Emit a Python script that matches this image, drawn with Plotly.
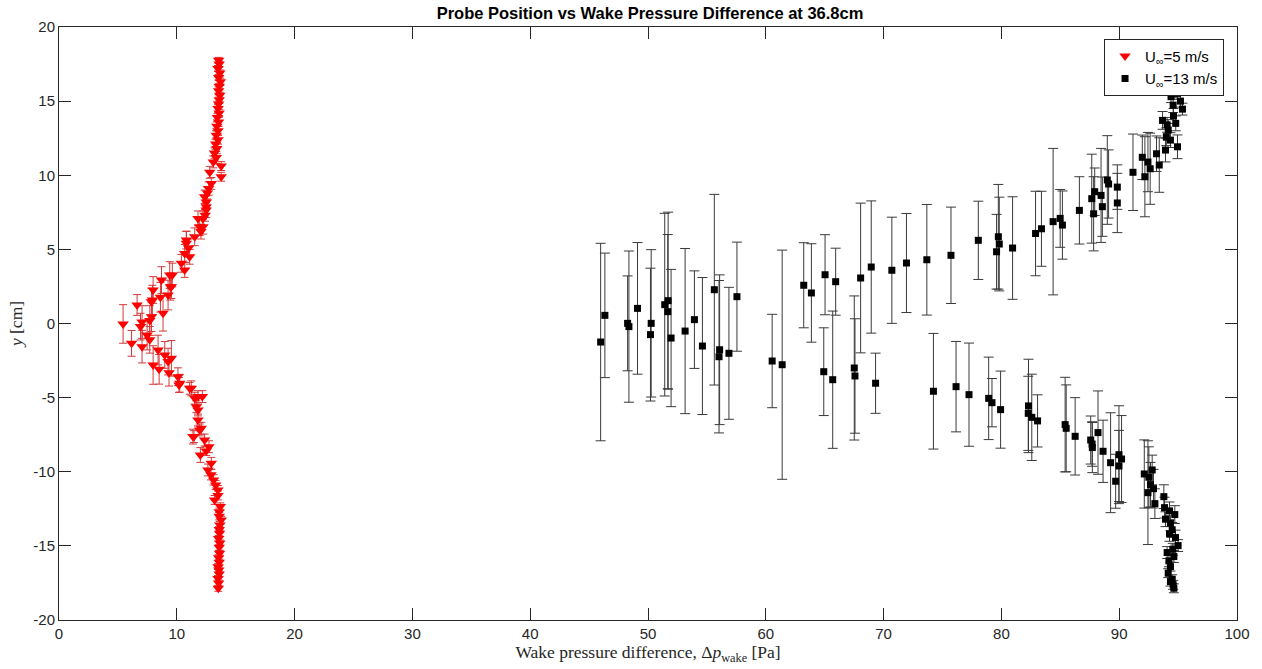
import plotly.graph_objects as go

# ---------------- data: U_inf = 5 m/s (red) ----------------
red_x = [13.55, 13.6, 13.5, 13.65, 13.55, 13.7, 13.6, 13.55, 13.65, 13.6,
         13.55, 13.5, 13.6, 13.45, 13.55, 13.4, 13.5, 13.35, 13.5, 13.3,
         13.4, 13.2, 13.35, 13.1, 13.77, 12.8, 13.77, 12.93, 12.7, 12.6,
         12.36, 12.5, 12.5, 12.5, 12.4, 12.22, 11.8, 12.22, 11.94, 12.05,
         11.52, 10.81, 10.81, 11.0, 10.67, 11.09, 10.39, 10.67, 9.62, 9.4,
         8.7, 9.54, 9.45, 7.99, 9.26, 8.61, 7.93, 7.85, 6.63, 8.83,
         7.85, 7.71, 7.05, 5.44, 6.92, 7.48, 7.7, 6.16, 7.05, 8.41,
         8.98, 9.54, 9.26, 7.99, 8.5, 9.34, 10.1, 10.19, 10.25, 11.23,
         11.09, 11.52, 12.17, 11.8, 11.66, 11.8, 11.8, 12.08, 11.94, 11.37,
         11.46, 12.36, 12.5, 12.73, 12.0, 12.93, 12.64, 12.9, 13.12, 13.3,
         13.49, 13.5, 13.21, 13.69, 13.6, 13.6, 13.77, 13.65, 13.6, 13.63,
         13.55, 13.65, 13.6, 13.63, 13.55, 13.6, 13.5, 13.57, 13.6, 13.5,
         13.55, 13.52]
red_y = [17.75, 17.5, 17.2, 16.9, 16.6, 16.3, 16.0, 15.7, 15.4, 15.1,
         14.8, 14.5, 14.2, 13.9, 13.6, 13.3, 13.0, 12.7, 12.4, 12.1,
         11.8, 11.5, 11.2, 10.9, 10.62, 10.2, 9.9, 9.45, 9.1, 8.8,
         8.55, 8.2, 7.88, 7.65, 7.3, 7.09, 7.09, 6.53, 6.53, 6.2,
         5.85, 5.41, 5.63, 5.1, 4.73, 4.5, 4.06, 3.61, 3.27, 3.27,
         2.93, 2.48, 2.48, 2.26, 1.92, 1.77, 1.58, 1.47, 1.25, 0.69,
         0.46, 0.2, 0.1, -0.03, -0.21, -0.78, -1.1, -1.34, -1.56, -1.79,
         -2.12, -2.35, -2.57, -2.8, -3.09, -3.32, -3.59, -4.15, -4.03, -4.37,
         -4.37, -5.04, -4.93, -4.93, -5.61, -5.83, -6.51, -7.07, -7.18, -7.63,
         -7.63, -7.86, -8.6, -8.31, -8.87, -9.43, -9.88, -10.2, -10.55, -10.9,
         -11.23, -11.6, -11.9, -12.35, -12.7, -13.0, -13.25, -13.6, -13.9, -14.15,
         -14.5, -14.8, -15.1, -15.5, -15.8, -16.1, -16.4, -16.62, -16.9, -17.2,
         -17.5, -17.86]
red_err = [0.2, 0.2, 0.2, 0.2, 0.2, 0.25, 0.2, 0.25, 0.2, 0.25,
           0.2, 0.25, 0.25, 0.25, 0.3, 0.3, 0.3, 0.3, 0.3, 0.35,
           0.35, 0.35, 0.4, 0.4, 0.3, 0.4, 0.3, 0.4, 0.45, 0.4,
           0.45, 0.4, 0.45, 0.5, 0.4, 0.5, 0.5, 0.5, 0.6, 0.5,
           0.6, 0.8, 0.6, 0.6, 0.6, 0.5, 0.6, 0.5, 0.8, 0.9,
           0.9, 0.8, 0.9, 0.9, 1.0, 1.0, 1.0, 0.9, 0.7, 1.2,
           1.0, 1.0, 1.1, 1.3, 0.9, 1.0, 0.9, 0.87, 1.1, 1.0,
           0.9, 1.2, 0.9, 1.3, 1.0, 0.9, 0.6, 0.5, 0.6, 0.5,
           0.4, 0.4, 0.4, 0.4, 0.4, 0.4, 0.4, 0.4, 0.4, 0.5,
           0.4, 0.4, 0.3, 0.4, 0.5, 0.4, 0.4, 0.35, 0.35, 0.3,
           0.3, 0.3, 0.3, 0.25, 0.25, 0.25, 0.25, 0.25, 0.2, 0.2,
           0.2, 0.2, 0.2, 0.2, 0.2, 0.2, 0.2, 0.2, 0.2, 0.2,
           0.2, 0.2]

# ---------------- data: U_inf = 13 m/s (black) ----------------
blk_x = [45.98, 46.34, 48.27, 48.38, 49.11, 50.27, 50.21, 51.42, 51.71, 51.68,
         51.96, 53.15, 53.94, 54.62, 55.63, 56.08, 56.03, 56.87, 57.55, 60.54,
         61.39, 63.22, 63.87, 65.03, 65.93, 64.92, 65.68, 67.51, 67.57, 68.05,
         68.95, 69.32, 70.70, 71.94, 73.67, 74.23, 75.72, 76.15, 77.25, 78.04,
         78.92, 79.20, 79.59, 79.74, 79.82, 79.93, 80.95, 82.3, 82.28, 82.58,
         83.07, 82.9, 83.40, 84.39, 84.99, 85.18, 85.41, 85.50, 86.26, 86.62,
         87.58, 87.70, 87.72, 88.2, 88.63, 87.67, 87.83, 87.92, 88.46, 88.57,
         88.99, 89.10, 89.84, 89.84, 89.27, 89.70, 89.98, 89.98, 90.20, 91.17,
         91.96, 92.18, 92.44, 92.63, 93.17, 93.40, 92.13, 92.44, 92.52, 92.66,
         92.80, 92.91, 93.03,
         93.93, 94.95, 93.68, 94.16, 94.0, 94.35, 94.07, 94.8, 94.61, 94.58,
         95.37, 95.2, 94.4, 94.92, 94.45, 94.7, 94.5, 94.8, 94.6,
         93.79, 93.85, 94.27, 94.72, 93.93, 94.35, 94.5, 94.27, 94.78, 95.0,
         94.55, 94.07, 94.64, 94.22, 94.35, 94.16, 94.5, 94.35, 94.58, 94.64]
blk_y = [-1.25, 0.55, 0.01, -0.21, 1.02, 0.01, -0.75, 1.27, 1.54, 0.80,
         -0.98, -0.51, 0.26, -1.52, 2.28, -1.77, -2.24, -2.01, 1.81, -2.53,
         -2.78, 2.58, 2.06, 3.29, 2.82, -3.25, -3.79, -3.0, -3.54, 3.07,
         3.81, -4.03, 3.59, 4.08, 4.30, -4.57, 4.60, -4.26, -4.80, 5.61,
         -5.05, -5.34, 4.84, 5.85, 5.36, -5.81, 5.09, -5.56, -6.06, -6.33,
         -6.57, 6.07, 6.39, 6.87, 7.09, 6.64, -6.82, -7.07, -7.61, 7.63,
         -7.86, -8.13, -8.37, -7.36, -8.62, 8.42, 7.40, 8.89, 8.64, 7.88,
         9.68, 9.41, 9.20, 8.13, -9.39, -10.64, -8.85, -9.61, -9.14, 10.20,
         11.21, 9.90, 10.89, 10.44, 11.45, 10.69, -10.15, -11.41, -10.37, -10.87,
         -9.88, -11.14, -12.15,
         11.70, 11.92, 13.70, 13.05, 12.6, 12.37, 13.4, 13.5, 14.0, 14.73,
         14.46, 15.0, 15.3, 15.52, 15.8, 16.2, 16.7, 17.2, 17.6,
         -11.68, -12.42, -12.64, -12.89, -13.2, -13.47, -13.92, -14.19, -14.44, -14.98,
         -15.23, -15.45, -15.72, -16.01, -16.4, -16.84, -17.25, -17.41, -17.63, -17.86]
blk_err = [6.66, 4.2, 3.2, 5.1, 4.44, 4.97, 4.48, 6.16, 5.97, 5.2,
           4.63, 5.57, 3.29, 4.62, 6.43, 5.05, 5.14, 4.45, 3.68, 3.15,
           7.73, 2.87, 3.32, 2.7, 2.26, 2.96, 4.63, 4.86, 3.86, 5.05,
           4.46, 2.03, 3.58, 3.34, 3.73, 3.9, 3.25, 3.05, 3.48, 2.64,
           2.78, 1.63, 2.52, 3.53, 3.16, 2.6, 3.46, 3.15, 2.5, 2.91,
           1.76, 2.85, 2.53, 4.94, 1.95, 2.3, 3.19, 2.93, 2.61, 2.27,
           1.62, 1.5, 1.69, 2.81, 2.1, 3.0, 2.5, 1.6, 3.17, 2.0,
           2.99, 2.3, 1.5, 2.0, 3.37, 1.82, 3.3, 2.4, 2.93, 2.58,
           1.5, 2.7, 2.0, 2.4, 1.2, 1.84, 2.3, 3.5, 2.05, 1.5,
           1.0, 1.3, 1.0,
           0.8, 0.8, 0.6, 0.7, 0.6, 0.5, 0.5, 0.5, 0.5, 0.5,
           0.4, 0.4, 0.4, 0.4, 0.4, 0.3, 0.3, 0.3, 0.3,
           0.8, 0.7, 0.6, 0.6, 0.5, 0.5, 0.5, 0.5, 0.5, 0.4,
           0.4, 0.4, 0.4, 0.4, 0.3, 0.3, 0.3, 0.3, 0.3, 0.3]

x_ticks = [0, 10, 20, 30, 40, 50, 60, 70, 80, 90, 100]
x_tick_text = ["0", "10", "20", "30", "40", "50", "60", "70", "80", "90", "100"]
y_ticks = [-20, -15, -10, -5, 0, 5, 10, 15, 20]
y_tick_text = ["-20", "-15", "-10", "-5", "0", "5", "10", "15", "20"]

AX = "#262626"

fig = go.Figure()
fig.add_trace(go.Scatter(
    x=red_x, y=red_y, mode="markers",
    name="U<sub>∞</sub>=5 m/s",
    marker=dict(symbol="triangle-down", size=10, color="#ff0000", line=dict(width=0)),
    error_y=dict(type="data", array=red_err, visible=True, color="#d23a3a", thickness=1, width=4),
))
fig.add_trace(go.Scatter(
    x=blk_x, y=blk_y, mode="markers",
    name="U<sub>∞</sub>=13 m/s",
    marker=dict(symbol="square", size=7, color="#000000", line=dict(width=0)),
    error_y=dict(type="data", array=blk_err, visible=True, color="#3a3a3a", thickness=1, width=5),
))

axis_common = dict(
    showline=True, linecolor=AX, linewidth=1, mirror="ticks",
    ticks="inside", ticklen=12, tickwidth=1, tickcolor=AX,
    showgrid=False, zeroline=False,
    tickfont=dict(family="Liberation Sans, Arial, sans-serif", size=15, color=AX),
)

fig.update_layout(
    width=1262, height=669,
    margin=dict(l=59, r=21, t=27, b=49),
    paper_bgcolor="white", plot_bgcolor="white",
    title=dict(
        text="<b>Probe Position vs Wake Pressure Difference at 36.8cm</b>",
        x=(59 + 1241) / 2 / 1262, xanchor="center", y=1 - 13 / 669, yanchor="middle",
        font=dict(family="Liberation Sans, Arial, sans-serif", size=16.5, color="#000000"),
    ),
    xaxis=dict(range=[0, 100], tickvals=x_ticks, ticktext=x_tick_text,
               title=dict(text="Wake pressure difference, Δ<i>p</i><sub>wake</sub> [Pa]",
                          font=dict(family="Liberation Serif, serif", size=17.5, color=AX),
                          standoff=1),
               **axis_common),
    yaxis=dict(range=[-20, 20], tickvals=y_ticks, ticktext=y_tick_text,
               title=dict(text="<i>y</i> [cm]",
                          font=dict(family="Liberation Serif, serif", size=17.5, color=AX),
                          standoff=6),
               **axis_common),
    legend=dict(
        x=0.989, xanchor="right", y=0.980, yanchor="top",
        bgcolor="white", bordercolor=AX, borderwidth=1,
        font=dict(family="Liberation Sans, Arial, sans-serif", size=15, color="#000000"),
        tracegroupgap=2,
    ),
    showlegend=True,
)

fig.write_html("out.html")
